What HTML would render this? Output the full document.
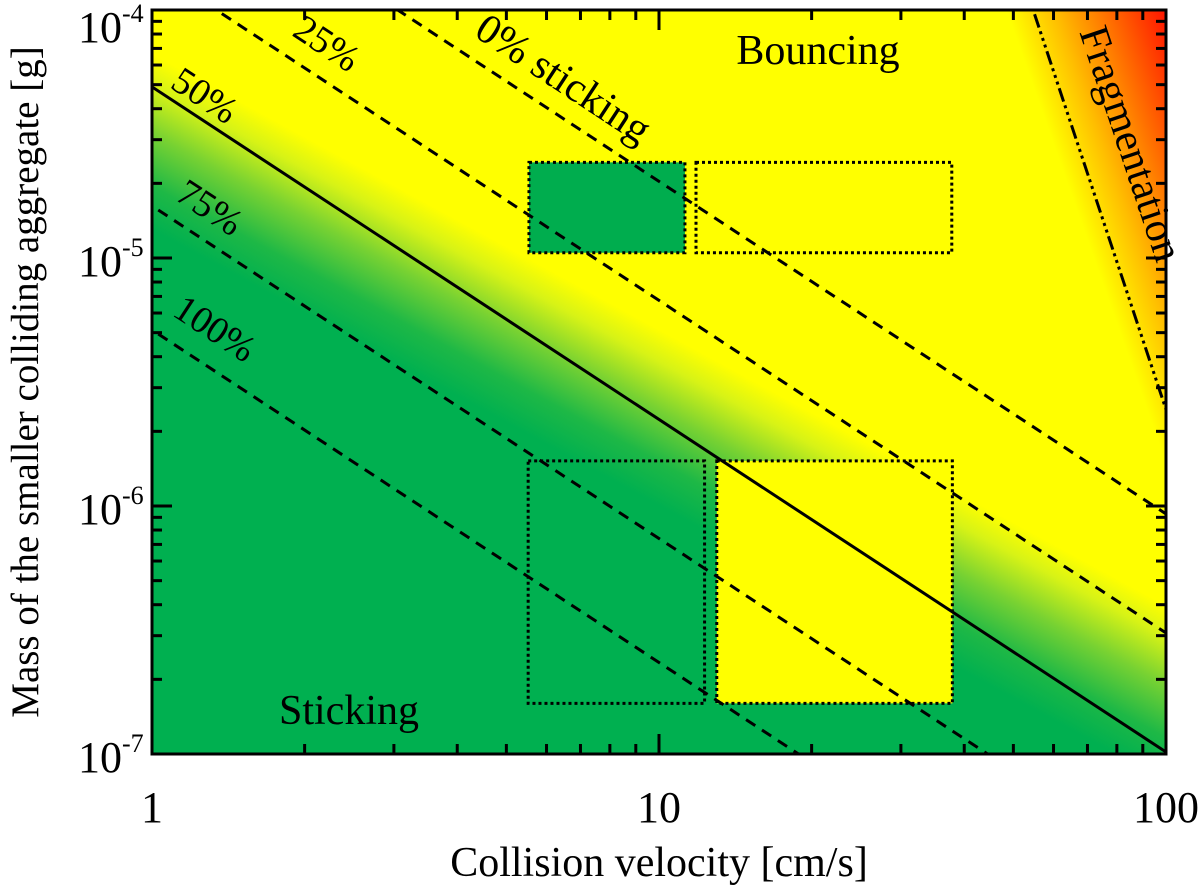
<!DOCTYPE html>
<html><head><meta charset="utf-8">
<style>
html,body{margin:0;padding:0;background:#fff;overflow:hidden;width:1200px;height:894px;}
svg{display:block;font-family:"Liberation Serif",serif;}
</style></head>
<body>
<svg id="chart" width="1200" height="894" viewBox="0 0 1200 894" xmlns="http://www.w3.org/2000/svg">
<defs>
  <linearGradient id="gy" gradientUnits="userSpaceOnUse" x1="148" y1="228" x2="222" y2="92">
    <stop offset="0" stop-color="rgb(0,176,80)"/>
    <stop offset="0.25" stop-color="rgb(30,184,70)"/>
    <stop offset="0.55" stop-color="rgb(120,210,50)"/>
    <stop offset="0.82" stop-color="rgb(215,243,22)"/>
    <stop offset="1" stop-color="rgb(255,255,0)"/>
  </linearGradient>
  <linearGradient id="gr" gradientUnits="userSpaceOnUse" x1="1024" y1="60" x2="1166" y2="10">
    <stop offset="0" stop-color="rgb(255,255,0)"/>
    <stop offset="0.3" stop-color="rgb(255,190,0)"/>
    <stop offset="1" stop-color="rgb(255,20,0)"/>
  </linearGradient>
  <clipPath id="plotclip"><rect x="152" y="10" width="1014" height="744"/></clipPath>
</defs>
<g id="plot" clip-path="url(#plotclip)">
  <rect x="0" y="0" width="1300" height="900" fill="url(#gy)"/>
  <polygon points="990,10 1166,10 1166,480" fill="url(#gr)"/>
  <g id="boxes"></g>
  <g id="lines"></g>
</g>
<rect x="152" y="10" width="1014" height="744" fill="none" stroke="#000" stroke-width="3"/>
<g id="ticks"></g>
<g id="labels" font-size="44"></g>
<text x="659" y="876" font-size="42" text-anchor="middle">Collision velocity [cm/s]</text>
<text transform="translate(38,382) rotate(-90)" font-size="39" text-anchor="middle">Mass of the smaller colliding aggregate [g]</text>
<text x="818" y="64" font-size="42" text-anchor="middle">Bouncing</text>
<text x="349" y="724" font-size="42" text-anchor="middle">Sticking</text>
<text transform="translate(1118,148) rotate(71.5)" font-size="42" text-anchor="middle">Fragmentation</text>
<text transform="translate(556,90) rotate(33.3)" font-size="42" text-anchor="middle">0% sticking</text>
<text transform="translate(320,54) rotate(33.3)" font-size="38" text-anchor="middle">25%</text>
<text transform="translate(198,106) rotate(33.3)" font-size="38" text-anchor="middle">50%</text>
<text transform="translate(203,218) rotate(33.3)" font-size="38" text-anchor="middle">75%</text>
<text transform="translate(208,339) rotate(33.3)" font-size="38" text-anchor="middle">100%</text>
</svg>
<script>
// data
const xTicks = [1, 10, 100];
const xTickLabels = ["1", "10", "100"];
const yTickExps = [-4, -5, -6, -7];
const lineNames = ["0%", "25%", "50%", "75%", "100%"];
const lineIntercepts = [-3.35, -3.83, -4.31, -4.79, -5.29]; // log10 M at v=1
const lineSlope = -1.341;
const boxV0 = [5.54, 11.83, 5.52, 13.0];
const boxV1 = [11.25, 37.8, 12.3, 37.9];
const boxM0 = [1.05e-5, 1.05e-5, 1.6e-7, 1.6e-7];
const boxM1 = [2.43e-5, 2.43e-5, 1.52e-6, 1.52e-6];
const boxFill = ["green", "none", "none", "yellow"];
const fragV = [54.7, 100];
const fragM = [1e-4, 2.45e-6];

const X0 = 152, X1 = 1166, Y0 = 754, Y1 = 10;
function xs(v){ return X0 + (Math.log10(v) - 0) / 2 * (X1 - X0); }
function ys(m){ return Y0 - (Math.log10(m) + 7) / 3 * (Y0 - Y1); }
const NS = "http://www.w3.org/2000/svg";
function mk(tag, attrs, parent){ const e = document.createElementNS(NS, tag); for (const k in attrs) e.setAttribute(k, attrs[k]); parent.appendChild(e); return e; }

// boxes
const gb = document.getElementById('boxes');
for (let i = 0; i < boxV0.length; i++) {
  const x = xs(boxV0[i]), w = xs(boxV1[i]) - x, y = ys(boxM1[i]), h = ys(boxM0[i]) - y;
  if (boxFill[i] !== "none") {
    const f = mk('rect', {x:x, y:y, width:w, height:h, fill: boxFill[i] === "green" ? "rgb(0,173,78)" : "rgb(255,255,0)"}, gb);
    
    
  }
  const r = mk('rect', {x:x, y:y, width:w, height:h, fill:"none", stroke:"#000", "stroke-width":3, "stroke-dasharray":"3 3"}, gb);
  
  
}

// probability lines
const gl = document.getElementById('lines');
for (let i = 0; i < lineIntercepts.length; i++) {
  const c = lineIntercepts[i];
  const v0 = 0.5, v1 = 200;
  const l = mk('line', {x1: xs(v0), y1: ys(Math.pow(10, c + lineSlope*Math.log10(v0))), x2: xs(v1), y2: ys(Math.pow(10, c + lineSlope*Math.log10(v1))), stroke:"#000", "stroke-width":3}, gl);
  if (lineNames[i] !== "50%") l.setAttribute('stroke-dasharray', '11 8');
  
  
}
// fragmentation line
{
  const s = (Math.log10(fragM[1]) - Math.log10(fragM[0])) / (Math.log10(fragV[1]) - Math.log10(fragV[0]));
  const va = fragV[0] * 0.9, vb = fragV[1] * 1.1;
  const ma = Math.pow(10, Math.log10(fragM[0]) + s*Math.log10(va/fragV[0]));
  const mb = Math.pow(10, Math.log10(fragM[0]) + s*Math.log10(vb/fragV[0]));
  const fl = mk('line', {x1: xs(va), y1: ys(ma), x2: xs(vb), y2: ys(mb), stroke:"#000", "stroke-width":3, "stroke-dasharray":"14 4 3 4 3 4 3 4"}, gl);
  
  
}

// ticks
const gt = document.getElementById('ticks');
for (let d = 0; d < 2; d++) for (let k = 1; k <= 9; k++) {
  const v = k * Math.pow(10, d); if (v <= 1 || v >= 100) continue;
  const x = xs(v), L = k === 1 ? 20 : 10;
  const t1 = mk('line', {x1:x, y1:Y0, x2:x, y2:Y0-L, stroke:"#000", "stroke-width":3}, gt);
   
  const t2 = mk('line', {x1:x, y1:Y1, x2:x, y2:Y1+L, stroke:"#000", "stroke-width":3}, gt);
   
}
for (let d = -7; d < -4; d++) for (let k = 1; k <= 9; k++) {
  const m = k * Math.pow(10, d); const y = ys(m); if (y >= Y0 - 1) continue;
  const L = k === 1 ? 20 : 10;
  const t1 = mk('line', {x1:X0, y1:y, x2:X0+L, y2:y, stroke:"#000", "stroke-width":3}, gt);
   
  const t2 = mk('line', {x1:X1, y1:y, x2:X1-L, y2:y, stroke:"#000", "stroke-width":3}, gt);
   
}

// labels
const glab = document.getElementById('labels');
xTicks.forEach((v, i) => {
  const t = mk('text', {x: xs(v), y: 822, "text-anchor":"middle"}, glab);
  t.textContent = xTickLabels[i];
  
  
});
yTickExps.forEach(e => {
  const y = Math.max(ys(Math.pow(10, e)) + 18, 42);
  const t = mk('text', {x: 78, y: y}, glab);
  
  
  const b = mk('tspan', {}, t); b.textContent = "10";
  const s = mk('tspan', {dy: -20, "font-size": 26}, t); s.textContent = String(e);
});
</script>
</body></html>
